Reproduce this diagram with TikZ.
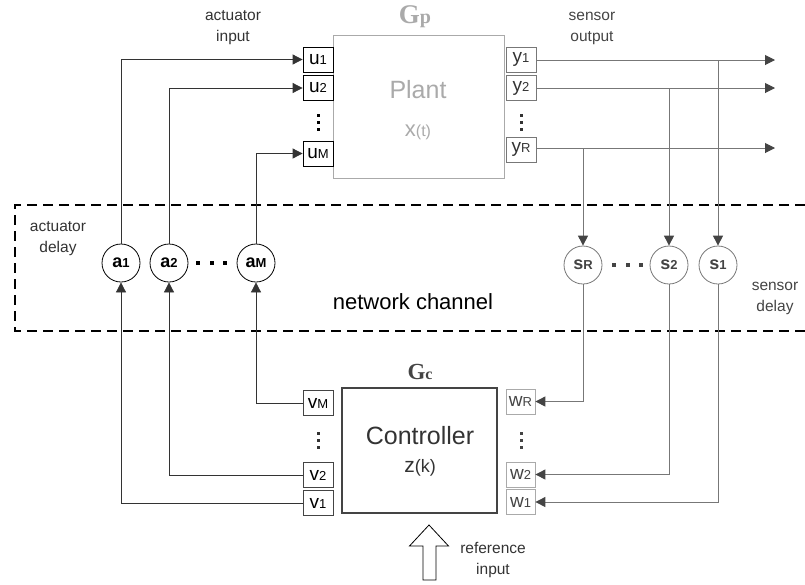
\documentclass[tikz,border=0pt]{standalone}
\usepackage{fontspec}
\setmainfont{Liberation Sans}
\newfontfamily\gfont{Liberation Serif}
\usetikzlibrary{arrows.meta}

\definecolor{plantgray}{HTML}{AAAAAA}
\definecolor{sensgray}{HTML}{777777}
\definecolor{darkline}{HTML}{333333}
\definecolor{ctrlgray}{HTML}{444444}

% small index after a symbol
\newcommand\idx[1]{{\fontsize{13}{13}\selectfont #1}}

\tikzset{
  port/.style={draw, minimum width=30pt, minimum height=25pt, inner sep=0pt,
    font=\fontsize{19}{19}\selectfont},
  inport/.style={port, draw=black, text=black, line width=0.8pt},
  outport/.style={port, draw=sensgray, text=darkline, line width=0.8pt},
  delaynode/.style={circle, draw, minimum size=38pt, inner sep=0pt,
    font=\bfseries\fontsize{18}{18}\selectfont, line width=0.8pt},
  lbl/.style={font=\fontsize{15.5}{21}\selectfont, align=center, inner sep=0pt},
  actline/.style={draw=darkline, line width=0.8pt},
  senline/.style={draw=sensgray, line width=1pt},
  acttip/.style={-{Triangle[length=10pt,width=10pt]}},
  sentip/.style={-{Triangle[length=10pt,width=10pt,color=ctrlgray]}},
}

\begin{document}
\begin{tikzpicture}[x=1pt,y=-1pt]
\useasboundingbox (0,0) rectangle (805,584);

% ---------- plant ----------
\node[draw=plantgray, line width=1pt, minimum width=171pt, minimum height=143pt,
      inner sep=0pt] (plant) at (418.5,106.5) {};
\node[text=plantgray, font=\fontsize{25}{25}\selectfont] (planttxt) at (418,90) {Plant};
\node[text=plantgray, font=\fontsize{22}{22}\selectfont] (plantstate) at (418,132)
  {x{\fontsize{16}{16}\selectfont(t)}};
\node[text=plantgray, font=\gfont\bfseries\fontsize{27}{27}\selectfont] (gp) at (415,17)
  {G{\fontsize{20}{20}\selectfont p}};

\node[inport] (u1) at (318,59.5) {u\idx{1}};
\node[inport] (u2) at (318,88) {u\idx{2}};
\node[inport] (uM) at (318,153.5) {u\idx{M}};

\node[outport] (y1) at (521,59.5) {y\idx{1}};
\node[outport] (y2) at (521,88) {y\idx{2}};
\node[outport] (yR) at (521,149.5) {y\idx{R}};

% vertical ellipses between ports
\foreach \yy in {115,122,129} {
  \fill (316.5,\yy-1.5) rectangle ++(3,3);
  \fill[darkline] (519.5,\yy-1.5) rectangle ++(3,3);
}

\node[lbl, text=darkline] (actin) at (233,28) {actuator\\input};
\node[lbl, text=ctrlgray] (senout) at (592,28) {sensor\\output};

% ---------- network channel ----------
\draw[line width=2pt, dash pattern=on 10pt off 6pt] (805,205) -- (15,205) -- (15,331) -- (805,331);
\node[font=\fontsize{22}{22}\selectfont] (netch) at (413,302) {network channel};
\node[lbl, text=darkline] (actdel) at (58,239) {actuator\\delay};
\node[lbl, text=ctrlgray] (sendel) at (775,298) {sensor\\delay};

\node[delaynode, draw=black] (a1) at (121,263) {a\idx{1}};
\node[delaynode, draw=black] (a2) at (169,263) {a\idx{2}};
\node[delaynode, draw=black] (aM) at (256,263) {a\idx{M}};
\node[delaynode, draw=sensgray, text=ctrlgray] (sR) at (583,265) {s\idx{R}};
\node[delaynode, draw=sensgray, text=ctrlgray] (s2) at (669,265) {s\idx{2}};
\node[delaynode, draw=sensgray, text=ctrlgray] (s1) at (718,265) {s\idx{1}};

% horizontal ellipses between delay nodes
\foreach \xx in {198,212,225} \fill (\xx-2,261) rectangle ++(4,4);
\foreach \xx in {614,628,641} \fill[ctrlgray] (\xx-2,263) rectangle ++(4,4);

% ---------- controller ----------
\node[draw=ctrlgray, line width=2.2pt, minimum width=155pt, minimum height=125pt,
      inner sep=0pt] (ctrl) at (419.5,450.5) {};
\node[text=darkline, font=\fontsize{25}{25}\selectfont] (ctrltxt) at (420,436) {Controller};
\node[text=darkline, font=\fontsize{21}{21}\selectfont] (ctrlstate) at (420,468)
  {z{\fontsize{18}{18}\selectfont(k)}};
\node[text=ctrlgray, font=\gfont\bfseries\fontsize{23}{23}\selectfont] (gc) at (420,372)
  {G{\fontsize{16}{16}\selectfont c}};

\node[inport, draw=ctrlgray] (vM) at (318,403) {v\idx{M}};
\node[inport, draw=ctrlgray] (v2) at (318,475) {v\idx{2}};
\node[inport, draw=ctrlgray] (v1) at (318,503) {v\idx{1}};

\node[outport, draw=plantgray, text=ctrlgray, minimum width=29pt] (wR) at (520.5,401.5) {w\idx{R}};
\node[outport, draw=plantgray, text=ctrlgray, minimum width=29pt] (w2) at (520.5,474.5) {w\idx{2}};
\node[outport, draw=plantgray, text=ctrlgray, minimum width=29pt] (w1) at (520.5,502) {w\idx{1}};

\foreach \yy in {433,440,447} {
  \fill[darkline] (316.5,\yy-1.5) rectangle ++(3,3);
  \fill[ctrlgray] (519.5,\yy-1.5) rectangle ++(3,3);
}

% reference input block arrow
\draw[line width=0.8pt, fill=white] (429,525) -- (448.5,546) -- (436,546) -- (436,580)
  -- (423,580) -- (423,546) -- (409.5,546) -- cycle;
\node[lbl, text=darkline] (refin) at (493,560) {reference\\input};

% ---------- actuator connections ----------
\draw[actline, acttip] (a1.north) |- (u1.west);
\draw[actline, acttip] (a2.north) |- (u2.west);
\draw[actline, acttip] (aM.north) |- (uM.west);
\draw[actline, acttip] (v1.west) -| (a1.south);
\draw[actline, acttip] (v2.west) -| (a2.south);
\draw[actline, acttip] (vM.west) -| (aM.south);

% ---------- sensor connections ----------
\coordinate (o1) at (775,60);
\coordinate (o2) at (775,88);
\coordinate (oR) at (775,148);
\draw[senline, sentip] (y1.east |- o1) -- (o1);
\draw[senline, sentip] (y2.east |- o2) -- (o2);
\draw[senline, sentip] (yR.east |- oR) -- (oR);
\draw[senline, sentip] (s1 |- o1) -- (s1.north);
\draw[senline, sentip] (s2 |- o2) -- (s2.north);
\draw[senline, sentip] (sR |- oR) -- (sR.north);
\draw[senline, sentip] (s1.south) |- (w1.east);
\draw[senline, sentip] (s2.south) |- (w2.east);
\draw[senline, sentip] (sR.south) |- (wR.east);
\end{tikzpicture}
\end{document}
